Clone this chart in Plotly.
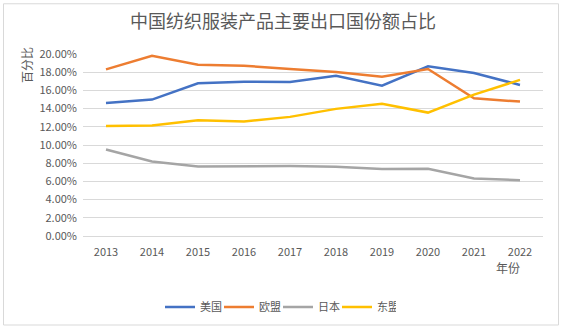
import plotly.graph_objects as go

# Export share of China's textile & apparel products by main destination
years = ["2013", "2014", "2015", "2016", "2017", "2018", "2019", "2020", "2021", "2022"]
usa = [0.1462, 0.1499, 0.1678, 0.1696, 0.1693, 0.1762, 0.1652, 0.1864, 0.1791, 0.1660]
eu = [0.1831, 0.1981, 0.1883, 0.1872, 0.1835, 0.1803, 0.1751, 0.1835, 0.1513, 0.1477]
japan = [0.0951, 0.0819, 0.0764, 0.0768, 0.0768, 0.0761, 0.0735, 0.0739, 0.0633, 0.0614]
asean = [0.1210, 0.1214, 0.1272, 0.1258, 0.1309, 0.1397, 0.1452, 0.1356, 0.1554, 0.1715]

series = [
    ("美国", usa, "#4472C4"),
    ("欧盟", eu, "#ED7D31"),
    ("日本", japan, "#A5A5A5"),
    ("东盟", asean, "#FFC000"),
]

W, H = 566, 332
L, R, T, B = 83, 543, 54, 237  # plot area in pixels
FONT = "Noto Sans CJK SC"
TXT = "#595959"


def px_x(x):
    return (x - L) / (R - L)


def px_y(y):
    return (B - y) / (B - T)


fig = go.Figure()
for name, vals, color in series:
    fig.add_trace(go.Scatter(
        x=years, y=vals, name=name, mode="lines",
        line=dict(color=color, width=2.5),
        hoverinfo="skip",
    ))

fig.update_layout(
    width=W, height=H,
    margin=dict(l=L, r=W - R, t=T, b=H - B, pad=0),
    paper_bgcolor="white", plot_bgcolor="white",
    font=dict(family=FONT, color=TXT, size=11),
    title=dict(
        text="中国纺织服装产品主要出口国份额占比",
        font=dict(family=FONT, size=18, color=TXT),
        x=0.5, xref="container", xanchor="center",
        y=1 - 22 / H, yref="container", yanchor="middle",
    ),
    xaxis=dict(
        type="category", range=[-0.5, 9.5],
        showgrid=False, showline=True, linecolor="#D9D9D9", linewidth=1,
        ticks="", tickfont=dict(size=11, color=TXT), ticklabelstandoff=6,
        zeroline=False, fixedrange=True,
    ),
    yaxis=dict(
        range=[0, 0.2], dtick=0.02, tickformat=".2%",
        showgrid=True, gridcolor="#D9D9D9", gridwidth=1,
        zeroline=False, showline=False, ticks="",
        tickfont=dict(size=11, color=TXT), ticklabelstandoff=5,
        fixedrange=True,
    ),
    showlegend=True,
    legend=dict(
        orientation="h", xanchor="left", yanchor="middle",
        x=px_x(160), y=px_y(307),
        font=dict(size=11, color=TXT), bgcolor="rgba(0,0,0,0)",
        traceorder="normal", entrywidth=14, entrywidthmode="pixels",
    ),
    annotations=[
        dict(text="百分比", textangle=-90, x=px_x(27), y=px_y(65),
             xref="paper", yref="paper", xanchor="center", yanchor="middle",
             showarrow=False, font=dict(size=12, color=TXT)),
        dict(text="年份", x=px_x(508), y=px_y(269),
             xref="paper", yref="paper", xanchor="center", yanchor="middle",
             showarrow=False, font=dict(size=12, color=TXT)),
    ],
    shapes=[
        dict(type="rect", xref="paper", yref="paper",
             x0=px_x(3.5), x1=px_x(558.5), y0=px_y(326.5), y1=px_y(3.5),
             line=dict(color="#D9D9D9", width=1), fillcolor="rgba(0,0,0,0)",
             layer="below"),
    ],
)

fig.write_html("out.html", config={"displayModeBar": False})
